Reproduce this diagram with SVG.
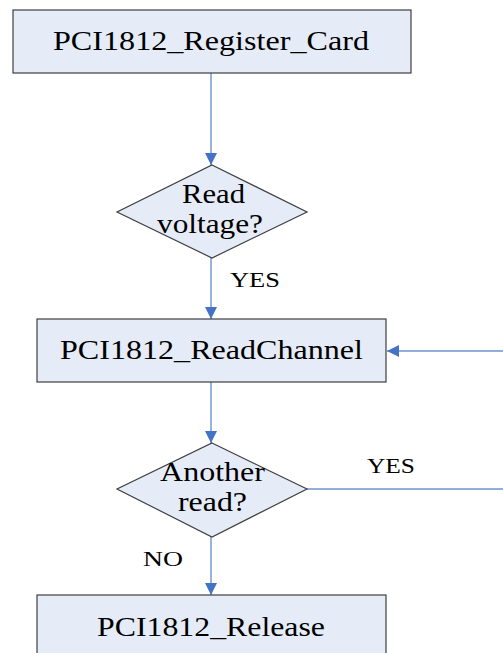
<svg xmlns="http://www.w3.org/2000/svg" width="503" height="653" viewBox="0 0 503 653">
  <style>
    .box { fill: #E6ECF7; stroke: #3F3F3F; stroke-width: 1.2; }
    .lbl { font-family: "Liberation Serif", "Times New Roman", serif; font-size: 27px; fill: #000; }
    .edge-lbl { font-family: "Liberation Serif", "Times New Roman", serif; font-size: 22px; fill: #000; }
    .wire { fill: none; stroke: #6C93D0; stroke-width: 1.4; }
  </style>
  <defs>
    <marker id="arrow" viewBox="0 0 12 12" refX="12" refY="6" markerWidth="12" markerHeight="12" markerUnits="userSpaceOnUse" orient="auto">
      <path d="M0,0 L12,6 L0,12 Z" fill="#4472C4"/>
    </marker>
  </defs>
  <rect width="503" height="653" fill="#FFFFFF"/>

  <g id="connectors">
    <line class="wire" x1="211" y1="73" x2="211" y2="165" marker-end="url(#arrow)"/>
    <line class="wire" x1="211" y1="258" x2="211" y2="319" marker-end="url(#arrow)"/>
    <line class="wire" x1="211" y1="382" x2="211" y2="443" marker-end="url(#arrow)"/>
    <line class="wire" x1="211" y1="537" x2="211" y2="595" marker-end="url(#arrow)"/>
    <line class="wire" x1="307" y1="489" x2="503" y2="489"/>
    <line class="wire" x1="503" y1="351" x2="387" y2="351" marker-end="url(#arrow)"/>
    <text class="edge-lbl" x="230" y="287" textLength="50" lengthAdjust="spacingAndGlyphs">YES</text>
    <text class="edge-lbl" x="367" y="473" textLength="48" lengthAdjust="spacingAndGlyphs">YES</text>
    <text class="edge-lbl" x="143" y="566" textLength="40" lengthAdjust="spacingAndGlyphs">NO</text>
  </g>

  <g id="register-card">
    <rect class="box" x="13" y="10" width="398" height="63"/>
    <text class="lbl" x="53" y="50" textLength="316" lengthAdjust="spacingAndGlyphs">PCI1812_Register_Card</text>
  </g>

  <g id="read-voltage">
    <polygon class="box" points="212,165 307,212 212,258 117,212"/>
    <text class="lbl" x="182" y="203" textLength="63" lengthAdjust="spacingAndGlyphs">Read</text>
    <text class="lbl" x="157" y="233" textLength="106" lengthAdjust="spacingAndGlyphs">voltage?</text>
  </g>

  <g id="read-channel">
    <rect class="box" x="37" y="319" width="349" height="63"/>
    <text class="lbl" x="60" y="359" textLength="303" lengthAdjust="spacingAndGlyphs">PCI1812_ReadChannel</text>
  </g>

  <g id="another-read">
    <polygon class="box" points="212,443 307,489 212,537 117,489"/>
    <text class="lbl" x="160" y="481" textLength="105" lengthAdjust="spacingAndGlyphs">Another</text>
    <text class="lbl" x="178" y="511" textLength="69" lengthAdjust="spacingAndGlyphs">read?</text>
  </g>

  <g id="release">
    <rect class="box" x="37" y="595" width="349" height="70"/>
    <text class="lbl" x="97" y="636" textLength="228" lengthAdjust="spacingAndGlyphs">PCI1812_Release</text>
  </g>
</svg>
